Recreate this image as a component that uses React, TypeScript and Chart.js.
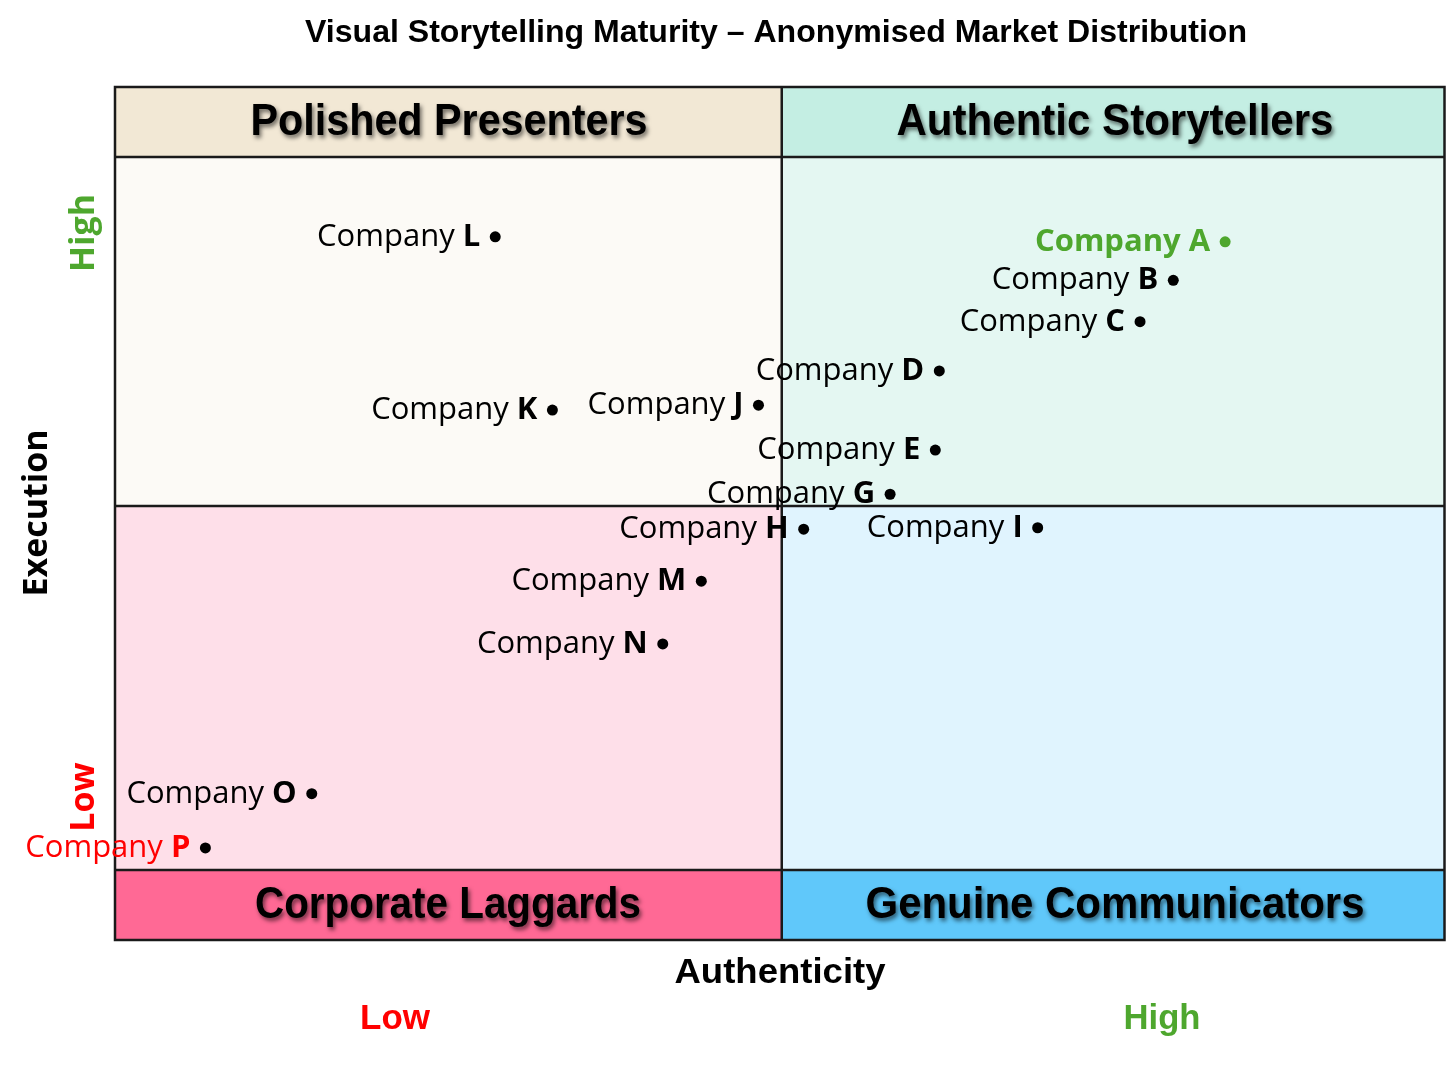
import React, { useEffect, useRef } from "react";
import { Chart, registerables } from "chart.js";

Chart.register(...registerables);

// ---- data ----
const companies = ["A", "B", "C", "D", "E", "G", "H", "I", "J", "K", "L", "M", "N", "O", "P"];
const authenticity = [83.5, 79.6, 77.1, 62.0, 61.7, 58.3, 51.8, 69.4, 48.4, 32.9, 28.6, 44.1, 41.2, 14.8, 6.8];
const execution = [88.1, 82.7, 76.9, 70.0, 58.9, 52.7, 47.8, 48.0, 65.2, 64.5, 88.8, 40.5, 31.7, 10.7, 3.1];
const labelColors = ["#4EA72E", "#000", "#000", "#000", "#000", "#000", "#000", "#000", "#000", "#000", "#000", "#000", "#000", "#000", "#FF0000"];
const dotColors = ["#4EA72E", "#000", "#000", "#000", "#000", "#000", "#000", "#000", "#000", "#000", "#000", "#000", "#000", "#000", "#000"];
const labelAllBold = [true, false, false, false, false, false, false, false, false, false, false, false, false, false, false];

const quadrantNames = ["Polished Presenters", "Authentic Storytellers", "Corporate Laggards", "Genuine Communicators"];
const title = "Visual Storytelling Maturity – Anonymised Market Distribution";
const xAxisTitle = "Authenticity";
const yAxisTitle = "Execution";
const lowLabel = "Low";
const highLabel = "High";

// scale structure (value units)
const X_MIN = 0, X_MAX = 100, X_MID = 50.15;
const Y_LOW = 0, Y_HIGH = 100, Y_MID = 51.05, BAND = 9.82;

const NARROW = '"Liberation Sans", Arial, sans-serif';
const SANS = '"Open Sans", "Noto Sans", sans-serif';

// draw text horizontally compressed to a target width (mimics a narrow face)
function fitText(ctx: any, txt: string, cx: number, cy: number, font: string, target: number) {
  ctx.save();
  ctx.font = font;
  ctx.textAlign = "center";
  ctx.textBaseline = "middle";
  const w = ctx.measureText(txt).width;
  const s = Math.min(1.05, target / w);
  ctx.translate(cx, cy);
  ctx.scale(s, 1);
  ctx.fillText(txt, 0, 0);
  ctx.restore();
}

const quadPlugin = {
  id: "quadrants",
  beforeDatasetsDraw(chart: any) {
    const { ctx, scales } = chart;
    const xs = scales.x, ys = scales.y;
    const x0 = xs.getPixelForValue(X_MIN), x1 = xs.getPixelForValue(X_MID), x2 = xs.getPixelForValue(X_MAX);
    const yTop = ys.getPixelForValue(Y_HIGH + BAND), yH = ys.getPixelForValue(Y_HIGH);
    const yM = ys.getPixelForValue(Y_MID), yL = ys.getPixelForValue(Y_LOW), yBot = ys.getPixelForValue(Y_LOW - BAND);
    ctx.save();
    const fills: [number, number, number, number, string][] = [
      [x0, yTop, x1, yH, "#F2E8D5"],
      [x1, yTop, x2, yH, "#C4EEE3"],
      [x0, yH, x1, yM, "#FCFAF6"],
      [x1, yH, x2, yM, "#E4F7F2"],
      [x0, yM, x1, yL, "#FEDFE9"],
      [x1, yM, x2, yL, "#E0F4FE"],
      [x0, yL, x1, yBot, "#FF6995"],
      [x1, yL, x2, yBot, "#60C8FA"],
    ];
    fills.forEach(([a, b, c, d, col]) => {
      ctx.fillStyle = col;
      ctx.fillRect(a, b, c - a, d - b);
    });
    ctx.strokeStyle = "#1a1a1a";
    ctx.lineWidth = 2.5;
    ctx.strokeRect(x0, yTop, x2 - x0, yBot - yTop);
    ctx.beginPath();
    ctx.moveTo(x0, yH); ctx.lineTo(x2, yH);
    ctx.moveTo(x0, yL); ctx.lineTo(x2, yL);
    ctx.moveTo(x0, yM); ctx.lineTo(x2, yM);
    ctx.moveTo(x1, yTop); ctx.lineTo(x1, yBot);
    ctx.stroke();

    // headers
    ctx.fillStyle = "#000";
    ctx.shadowColor = "rgba(0,0,0,0.55)";
    ctx.shadowOffsetX = 2;
    ctx.shadowOffsetY = 3;
    ctx.shadowBlur = 4;
    const hf = `bold 44px ${NARROW}`;
    const cy1 = (yTop + yH) / 2 + 1, cy2 = (yL + yBot) / 2 + 1;
    fitText(ctx, quadrantNames[0], 449, cy1, hf, 397);
    fitText(ctx, quadrantNames[1], 1115, cy1, hf, 437);
    fitText(ctx, quadrantNames[2], 448, cy2, hf, 386);
    fitText(ctx, quadrantNames[3], 1115, cy2, hf, 499);
    ctx.restore();
  },
  afterDatasetsDraw(chart: any) {
    const { ctx } = chart;
    const meta = chart.getDatasetMeta(0);
    ctx.save();
    ctx.textBaseline = "middle";
    ctx.textAlign = "left";
    meta.data.forEach((pt: any, i: number) => {
      const px = pt.x, py = pt.y;
      const reg = labelAllBold[i] ? `bold 31px ${SANS}` : `31px ${SANS}`;
      const bold = `bold 31px ${SANS}`;
      const word = "Company ";
      ctx.font = reg;
      const w1 = ctx.measureText(word).width;
      ctx.font = bold;
      const w2 = ctx.measureText(companies[i]).width;
      const right = px - 15;
      ctx.fillStyle = labelColors[i];
      ctx.font = reg;
      ctx.fillText(word, right - w1 - w2, py);
      ctx.font = bold;
      ctx.fillText(companies[i], right - w2, py);
    });
    ctx.restore();
  },
  afterDraw(chart: any) {
    const { ctx } = chart;
    ctx.save();
    ctx.fillStyle = "#000";
    fitText(ctx, title, 776, 33, `bold 31px ${NARROW}`, 942);
    fitText(ctx, xAxisTitle, 780, 973, `bold 35px ${NARROW}`, 211);
    ctx.fillStyle = "#FF0000";
    fitText(ctx, lowLabel, 395, 1019, `bold 35px ${NARROW}`, 70);
    ctx.fillStyle = "#4EA72E";
    fitText(ctx, highLabel, 1162, 1019, `bold 35px ${NARROW}`, 77);
    // y-axis rotated
    const rot = (txt: string, x: number, y: number, color: string) => {
      ctx.save();
      ctx.translate(x, y);
      ctx.rotate(-Math.PI / 2);
      ctx.fillStyle = color;
      ctx.textAlign = "center";
      ctx.textBaseline = "middle";
      ctx.font = `bold 34px ${SANS}`;
      ctx.fillText(txt, 0, 0);
      ctx.restore();
    };
    rot(yAxisTitle, 37, 513, "#000");
    rot(highLabel, 84, 233, "#4EA72E");
    rot(lowLabel, 84, 797, "#FF0000");
    ctx.restore();
  },
};

export default function App() {
  const ref = useRef<HTMLCanvasElement>(null);
  useEffect(() => {
    if (!ref.current) return;
    const chart = new Chart(ref.current, {
      type: "scatter",
      data: {
        datasets: [
          {
            data: authenticity.map((x, i) => ({ x, y: execution[i] })),
            pointRadius: 5.5,
            pointHoverRadius: 5.5,
            pointBackgroundColor: dotColors,
            pointBorderWidth: 0,
          },
        ],
      },
      options: {
        responsive: false,
        animation: false,
        layout: { padding: { left: 115, right: 3, top: 87, bottom: 126 } },
        plugins: { legend: { display: false }, tooltip: { enabled: false }, title: { display: false } },
        scales: {
          x: { type: "linear", min: X_MIN, max: X_MAX, display: false },
          y: { type: "linear", min: Y_LOW - BAND, max: Y_HIGH + BAND, display: false },
        },
      },
      plugins: [quadPlugin],
    });
    return () => chart.destroy();
  }, []);
  return (
    <div style={{ position: "absolute", left: 0, top: 0, width: 1450, height: 1066, background: "#fff" }}>
      <canvas ref={ref} width={1450} height={1066} style={{ width: 1450, height: 1066, display: "block" }} />
    </div>
  );
}
